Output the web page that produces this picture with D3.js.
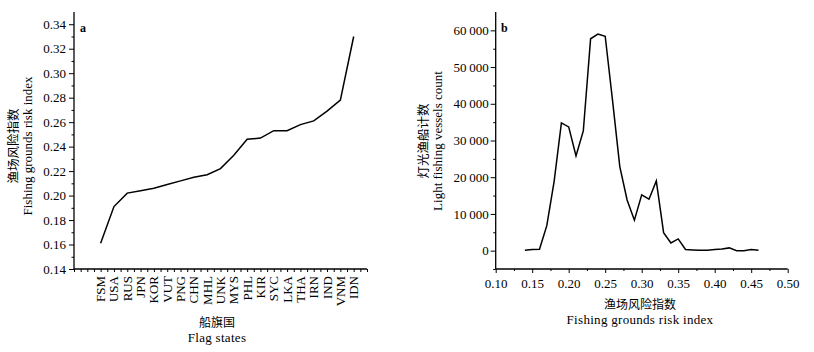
<!DOCTYPE html>
<html><head><meta charset="utf-8">
<script src="https://cdn.jsdelivr.net/npm/d3@7"></script>
<style>
body{margin:0;background:#fff;}
text{font-family:"Liberation Serif","Times New Roman",serif;fill:#000;}
.cn{font-family:"Noto Sans CJK SC",sans-serif;}
</style></head>
<body>
<svg id="c" width="814" height="352"></svg>
<script>
// Panel a
const flagStates = ["FSM","USA","RUS","JPN","KOR","VUT","PNG","CHN","MHL","UNK","MYS","PHL","KIR","SYC","LKA","THA","IRN","IND","VNM","IDN"];
const riskIndex = [0.161,0.191,0.202,0.204,0.206,0.209,0.212,0.215,0.217,0.222,0.233,0.246,0.247,0.253,0.253,0.258,0.261,0.269,0.278,0.330];
const yTicksA = [0.14,0.16,0.18,0.20,0.22,0.24,0.26,0.28,0.30,0.32,0.34];
// Panel b
const riskBins = [0.14,0.15,0.16,0.17,0.18,0.19,0.20,0.21,0.22,0.23,0.24,0.25,0.26,0.27,0.28,0.29,0.30,0.31,0.32,0.33,0.34,0.35,0.36,0.37,0.38,0.39,0.40,0.41,0.42,0.43,0.44,0.45,0.46];
const vesselCount = [100,300,400,6800,18800,34800,33700,25800,32600,57700,59000,58400,41000,22900,13800,8300,15200,14000,19000,4900,2100,3200,300,200,100,100,300,450,750,0,0,300,100];
const xTicksB = [0.10,0.15,0.20,0.25,0.30,0.35,0.40,0.45,0.50];
const yTicksB = [0,10000,20000,30000,40000,50000,60000];

const svg = d3.select("#c");
const fmtB = v => v === 0 ? "0" : d3.format(",")(v).replace(",", "\u2009");

// ---------- Panel a ----------
const ga = svg.append("g");
const xA = d3.scaleLinear().domain([-2, 20]).range([74, 367]);
const yA = d3.scaleLinear().domain([0.14, 0.35]).range([269, 12]);

// y axis
const yAxA = d3.axisLeft(yA).tickValues(yTicksA).tickFormat(d3.format(".2f")).tickSize(5).tickPadding(3);
const gyA = ga.append("g").attr("transform","translate(74,0)").call(yAxA);
gyA.select(".domain").remove();
ga.append("g").attr("transform","translate(74,0)")
  .call(d3.axisLeft(yA).tickValues(d3.range(0.15,0.35,0.02)).tickSize(2.5).tickFormat(""))
  .select(".domain").remove();
ga.append("line").attr("x1",74).attr("x2",74).attr("y1",yA(0.35)).attr("y2",yA(0.14)).attr("stroke","#000").attr("stroke-width",1.3);
gyA.selectAll("text").style("font-size","13px");

// x axis
ga.append("g").attr("transform","translate(0,269)")
  .call(d3.axisBottom(xA).tickValues(d3.range(-2, 20.01, 0.5)).tickSize(3).tickFormat(""))
  .select(".domain").remove();
ga.append("line").attr("x1",74).attr("x2",367).attr("y1",269).attr("y2",269).attr("stroke","#000").attr("stroke-width",1.3);
ga.selectAll(".tick line").attr("stroke","#000");
ga.append("g").selectAll("text").data(flagStates).join("text")
  .attr("transform",(d,i)=>`translate(${xA(i)+4.5},276) rotate(-90)`)
  .attr("text-anchor","end").style("font-size","13px").text(d=>d);

// line
ga.append("path").datum(riskIndex)
  .attr("d", d3.line().x((d,i)=>xA(i)).y(d=>yA(d)))
  .attr("fill","none").attr("stroke","#000").attr("stroke-width",1.5);

ga.append("text").attr("x",80).attr("y",32).style("font-size","12px").style("font-weight","bold").text("a");
ga.append("text").attr("class","cn").attr("transform","translate(18,146) rotate(-90)").attr("text-anchor","middle").style("font-size","12.5px").text("渔场风险指数");
ga.append("text").attr("transform","translate(32,146) rotate(-90)").attr("text-anchor","middle").style("font-size","13px").text("Fishing grounds risk index");
ga.append("text").attr("class","cn").attr("x",217).attr("y",327).attr("text-anchor","middle").style("font-size","12px").text("船旗国");
ga.append("text").attr("x",217).attr("y",342).attr("text-anchor","middle").style("font-size","13px").style("letter-spacing","0.3px").text("Flag states");

// ---------- Panel b ----------
const gb = svg.append("g");
const xB = d3.scaleLinear().domain([0.10, 0.50]).range([495.7, 787.7]);
const yB = d3.scaleLinear().domain([-5000, 65000]).range([269, 12]);

const gyB = gb.append("g").attr("transform","translate(495.7,0)")
  .call(d3.axisLeft(yB).tickValues(yTicksB).tickFormat(fmtB).tickSize(5).tickPadding(2));
gyB.select(".domain").remove();
gyB.selectAll("text").style("font-size","13px");
gb.append("g").attr("transform","translate(495.7,0)")
  .call(d3.axisLeft(yB).tickValues([-5000,5000,15000,25000,35000,45000,55000]).tickSize(2.5).tickFormat(""))
  .select(".domain").remove();
gb.append("line").attr("x1",495.7).attr("x2",495.7).attr("y1",12).attr("y2",269).attr("stroke","#000").attr("stroke-width",1.3);

const gxB = gb.append("g").attr("transform","translate(0,269)")
  .call(d3.axisBottom(xB).tickValues(xTicksB).tickFormat(d3.format(".2f")).tickSize(4).tickPadding(6));
gxB.select(".domain").remove();
gxB.selectAll("text").style("font-size","13px");
gb.append("g").attr("transform","translate(0,269)")
  .call(d3.axisBottom(xB).tickValues(d3.range(0.125,0.5,0.05)).tickSize(2).tickFormat(""))
  .select(".domain").remove();
gb.append("line").attr("x1",495.7).attr("x2",787.7).attr("y1",269).attr("y2",269).attr("stroke","#000").attr("stroke-width",1.3);
gb.selectAll(".tick line").attr("stroke","#000");

gb.append("path").datum(vesselCount)
  .attr("d", d3.line().x((d,i)=>xB(riskBins[i])).y(d=>yB(d)))
  .attr("fill","none").attr("stroke","#000").attr("stroke-width",1.5);

gb.append("text").attr("x",501).attr("y",32).style("font-size","12px").style("font-weight","bold").text("b");
gb.append("text").attr("class","cn").attr("transform","translate(428,141) rotate(-90)").attr("text-anchor","middle").style("font-size","12.5px").text("灯光渔船计数");
gb.append("text").attr("transform","translate(442,141) rotate(-90)").attr("text-anchor","middle").style("font-size","13px").text("Light fishing vessels count");
gb.append("text").attr("class","cn").attr("x",640).attr("y",309).attr("text-anchor","middle").style("font-size","12px").text("渔场风险指数");
gb.append("text").attr("x",640).attr("y",324).attr("text-anchor","middle").style("font-size","13px").style("letter-spacing","0.3px").text("Fishing grounds risk index");
</script>
</body></html>
